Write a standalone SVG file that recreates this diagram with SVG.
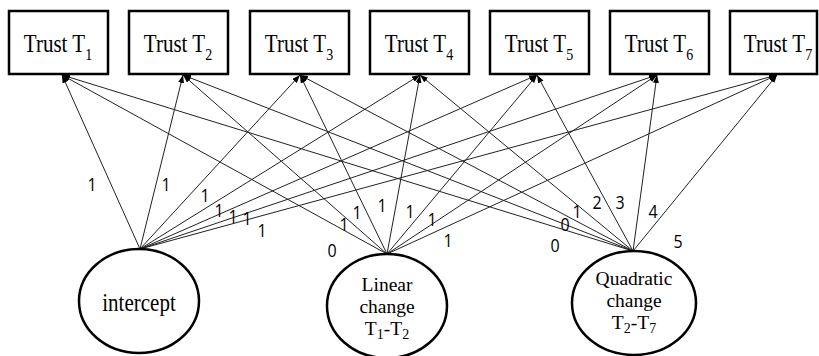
<svg xmlns="http://www.w3.org/2000/svg" width="819" height="356" viewBox="0 0 819 356">
<style>
.box{fill:#fff;stroke:#000;stroke-width:2.5}
.ell{fill:#fff;stroke:#000;stroke-width:2.5}
.t{font-family:"Liberation Serif","Times New Roman",serif;font-size:21px;fill:#000;text-anchor:middle}
.e{font-size:19.5px}
.sub{font-size:14px}
.lb{font-family:"Open Sans","Liberation Sans",sans-serif;font-size:16px;fill:#000;text-anchor:middle}
.c line{stroke:#222;stroke-width:1;marker-end:url(#ah)}
</style>
<defs>
<marker id="ah" markerUnits="userSpaceOnUse" markerWidth="9" markerHeight="7" refX="8" refY="3" orient="auto">
<path d="M0,0 L8,3 L0,6 z" fill="#000"/>
</marker>
</defs>
<rect width="819" height="356" fill="#fff"/>
<g id="connectors" class="c">
<line x1="140" y1="249" x2="62" y2="75"/>
<line x1="140" y1="249" x2="183" y2="75"/>
<line x1="140" y1="249" x2="300" y2="75"/>
<line x1="140" y1="249" x2="420" y2="75"/>
<line x1="140" y1="249" x2="537" y2="75"/>
<line x1="140" y1="249" x2="657" y2="75"/>
<line x1="140" y1="249" x2="777" y2="75"/>
<line x1="387" y1="254" x2="62" y2="75"/>
<line x1="387" y1="254" x2="183" y2="75"/>
<line x1="387" y1="254" x2="300" y2="75"/>
<line x1="387" y1="254" x2="420" y2="75"/>
<line x1="387" y1="254" x2="537" y2="75"/>
<line x1="387" y1="254" x2="657" y2="75"/>
<line x1="387" y1="254" x2="777" y2="75"/>
<line x1="633" y1="251" x2="62" y2="75"/>
<line x1="633" y1="251" x2="183" y2="75"/>
<line x1="633" y1="251" x2="300" y2="75"/>
<line x1="633" y1="251" x2="420" y2="75"/>
<line x1="633" y1="251" x2="537" y2="75"/>
<line x1="633" y1="251" x2="657" y2="75"/>
<line x1="633" y1="251" x2="777" y2="75"/>
</g>
<g id="labels">
<text class="lb" transform="translate(92,191) scale(1,1.15)">1</text>
<text class="lb" transform="translate(166,191) scale(1,1.15)">1</text>
<text class="lb" transform="translate(205,202) scale(1,1.15)">1</text>
<text class="lb" transform="translate(219,217) scale(1,1.15)">1</text>
<text class="lb" transform="translate(233,223) scale(1,1.15)">1</text>
<text class="lb" transform="translate(247,225) scale(1,1.15)">1</text>
<text class="lb" transform="translate(262,237) scale(1,1.15)">1</text>
<text class="lb" transform="translate(332,257) scale(1,1.15)">0</text>
<text class="lb" transform="translate(344,231) scale(1,1.15)">1</text>
<text class="lb" transform="translate(357,219) scale(1,1.15)">1</text>
<text class="lb" transform="translate(382,212) scale(1,1.15)">1</text>
<text class="lb" transform="translate(410,218) scale(1,1.15)">1</text>
<text class="lb" transform="translate(432,226) scale(1,1.15)">1</text>
<text class="lb" transform="translate(448,247) scale(1,1.15)">1</text>
<text class="lb" transform="translate(555,252) scale(1,1.15)">0</text>
<text class="lb" transform="translate(565,231) scale(1,1.15)">0</text>
<text class="lb" transform="translate(577,218) scale(1,1.15)">1</text>
<text class="lb" transform="translate(597,209) scale(1,1.15)">2</text>
<text class="lb" transform="translate(620,209) scale(1,1.15)">3</text>
<text class="lb" transform="translate(653,218) scale(1,1.15)">4</text>
<text class="lb" transform="translate(678,248) scale(1,1.15)">5</text>
</g>
<g id="trust1"><rect class="box" x="9" y="11" width="99" height="63"/><text class="t" transform="translate(58,52) scale(1,1.2)">Trust T<tspan class="sub" dy="7">1</tspan></text></g>
<g id="trust2"><rect class="box" x="129" y="11" width="99" height="63"/><text class="t" transform="translate(178,52) scale(1,1.2)">Trust T<tspan class="sub" dy="7">2</tspan></text></g>
<g id="trust3"><rect class="box" x="250" y="11" width="99" height="63"/><text class="t" transform="translate(299,52) scale(1,1.2)">Trust T<tspan class="sub" dy="7">3</tspan></text></g>
<g id="trust4"><rect class="box" x="370" y="11" width="99" height="63"/><text class="t" transform="translate(419,52) scale(1,1.2)">Trust T<tspan class="sub" dy="7">4</tspan></text></g>
<g id="trust5"><rect class="box" x="490" y="11" width="99" height="63"/><text class="t" transform="translate(539,52) scale(1,1.2)">Trust T<tspan class="sub" dy="7">5</tspan></text></g>
<g id="trust6"><rect class="box" x="610" y="11" width="99" height="63"/><text class="t" transform="translate(659,52) scale(1,1.2)">Trust T<tspan class="sub" dy="7">6</tspan></text></g>
<g id="trust7"><rect class="box" x="730" y="11" width="87" height="63"/><text class="t" transform="translate(778,52) scale(1,1.2)">Trust T<tspan class="sub" dy="7">7</tspan></text></g>
<g id="intercept"><ellipse class="ell" cx="139" cy="301" rx="60" ry="52"/><text class="t" transform="translate(139,311) scale(1,1.2)">intercept</text></g>
<g id="linear"><ellipse class="ell" cx="387" cy="306" rx="60" ry="52"/>
<text class="t e" x="387" y="291">Linear</text>
<text class="t e" x="387" y="313">change</text>
<text class="t e" x="387" y="335">T<tspan class="sub" dy="4">1</tspan><tspan dy="-4">-T</tspan><tspan class="sub" dy="4">2</tspan></text></g>
<g id="quadratic"><ellipse class="ell" cx="634" cy="303" rx="62" ry="52"/>
<text class="t e" x="634" y="285">Quadratic</text>
<text class="t e" x="634" y="307">change</text>
<text class="t e" x="634" y="329">T<tspan class="sub" dy="4">2</tspan><tspan dy="-4">-T</tspan><tspan class="sub" dy="4">7</tspan></text></g>
</svg>
